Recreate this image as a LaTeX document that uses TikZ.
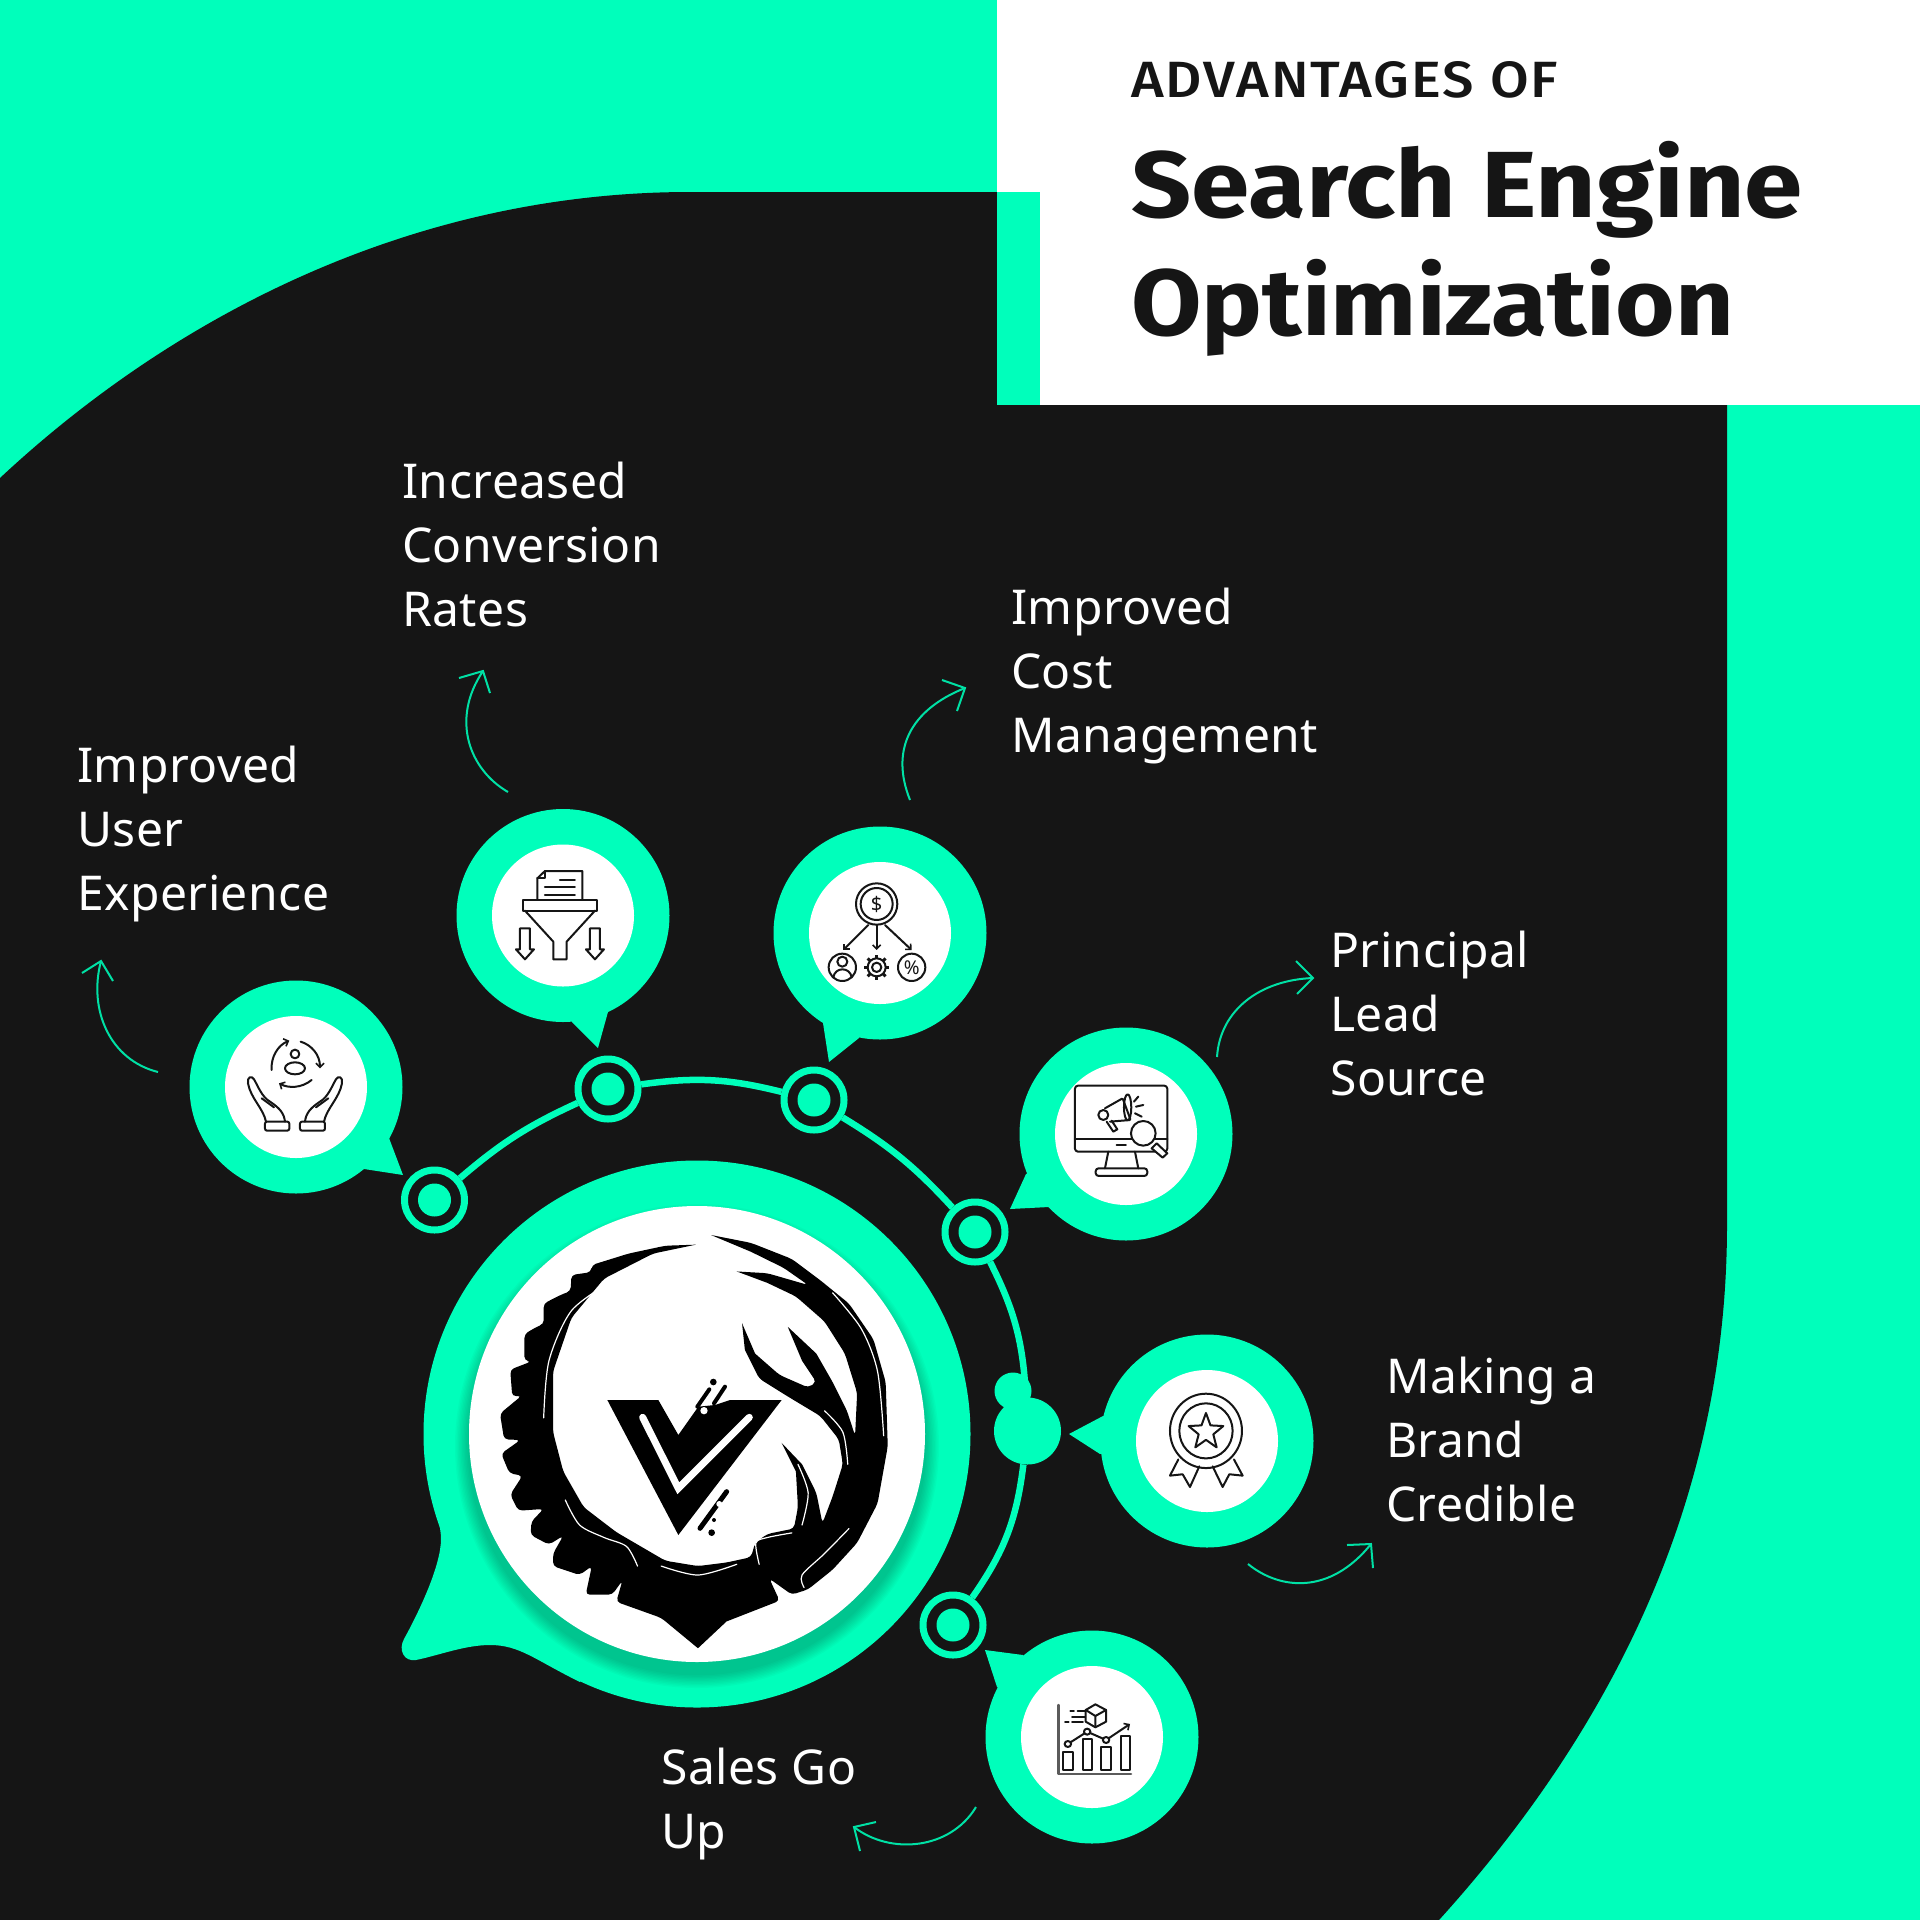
\documentclass[tikz,border=0pt]{standalone}
\usepackage{graphicx}
\usepackage{fontspec}
\setmainfont{Noto Sans}[LetterSpace=1]
\newfontfamily\ttl{Fira Sans}
\newfontfamily\ttlm{Fira Sans Medium}[LetterSpace=3.5]
\usetikzlibrary{arrows.meta}
\definecolor{mint}{RGB}{0,255,187}
\definecolor{ink}{RGB}{21,21,21}
\definecolor{thin}{RGB}{0,225,165}
\tikzset{
 bubble/.style={circle,fill=mint,minimum size=213pt,inner sep=0pt},
 hole/.style={circle,fill=white,minimum size=142pt,inner sep=0pt},
 ring/.style={circle,draw=mint,fill=ink,line width=7pt,minimum size=60pt,inner sep=0pt},
 dot/.style={circle,fill=mint,minimum size=33pt,inner sep=0pt},
 arcline/.style={draw=mint,line width=6.5pt},
 label/.style={text=white,anchor=base west,inner sep=0pt,align=left,font=\fontsize{48}{64}\selectfont},
 flow/.style={draw=thin,line width=2pt},
 barb/.style={draw=thin,line width=2pt,line join=miter},
 icon/.style={draw=ink,line width=2pt,line cap=round,line join=round},
 iconarrow/.style={icon,-{Straight Barb[length=4pt,width=8pt,line width=1.6pt]}},
 wisp/.style={draw=white,line width=1.2pt,line cap=round},
}
\begin{document}
\begin{tikzpicture}[x=1pt,y=-1pt]
\useasboundingbox (0,0) rectangle (1920,1920);
\fill[mint] (0,0) rectangle (1920,1920);
\fill[white] (997,0) rectangle (1920,405);
\fill[ink] (0,478) .. controls (180,310) and (420,192) .. (690,192) -- (997,192) -- (997,405) -- (1727,405) -- (1727,1225) .. controls (1727,1490) and (1620,1720) .. (1439,1920) -- (0,1920) -- cycle;
\fill[mint] (997,192) rectangle (1040,405);
% title
\node[anchor=base west,inner sep=0pt,text=ink] (t1) at (1131,97) {\scalebox{1.1}[1]{\ttlm\fontsize{51}{51}\selectfont ADVANTAGES OF}};
\node[anchor=base west,inner sep=0pt,text=ink] (t2) at (1131,217) {\scalebox{1.12}[1]{\ttl\bfseries\fontsize{94}{94}\selectfont Search Engine}};
\node[anchor=base west,inner sep=0pt,text=ink] (t3) at (1131,335) {\scalebox{1.086}[1]{\ttl\bfseries\fontsize{94}{94}\selectfont Optimization}};
% labels
\node[label] (l1) at (77,910) {Improved\\User\\Experience};
\node[label] (l2) at (402,626) {Increased\\Conversion\\Rates};
\node[label] (l3) at (1011,752) {Improved\\Cost\\Management};
\node[label] (l4) at (1330,1095) {Principal\\Lead\\Source};
\node[label] (l5) at (1386,1521) {Making a\\Brand\\Credible};
\node[label] (l6) at (661,1848) {Sales Go\\Up};
% main bubble
\fill[mint] (697,1434) -- (431,1489) .. controls (438,1515) and (441,1530) .. (441,1539) .. controls (441,1565) and (420,1610) .. (404,1639) .. controls (398,1650) and (404,1662) .. (416,1660) .. controls (440,1655) and (465,1645) .. (490,1645) .. controls (520,1645) and (535,1660) .. (580,1682) -- cycle;
\node[circle,fill=mint,minimum size=547pt,inner sep=0pt] (m) at (697,1434) {};
\foreach \i in {1,...,10}
  \fill[black,opacity=.025] (697,1446) circle ({228+1.4*\i});
\node[circle,fill=white,minimum size=456pt,inner sep=0pt] (mw) at (697,1434) {};
% logo wreath
\begin{scope}[shift={(400,1150)},xscale=0.40816,yscale=0.35714]
\fill[black] [sharp corners] (725,265) [rounded corners=4pt] -- (650,268) -- (560,290) -- (470,322) -- (468,342) -- (420,350) -- (418,395) -- (395,405) -- (352,430) -- (352,488) -- (340,492) -- (305,515) -- (305,590) -- (322,592) -- (270,615) -- (275,690) -- (298,688) -- (245,738) -- (255,810) -- (295,812) -- (248,850) -- (268,905) -- (300,912) -- (270,965) -- (290,1010) -- (352,1005) -- (322,1040) -- (320,1078) -- (365,1105) -- (400,1080) -- (375,1130) -- (375,1165) -- (440,1190) -- (470,1165) -- (455,1245) -- (520,1245) -- (545,1205) -- (530,1265) -- (640,1310) [sharp corners] -- (730,1395) -- (800,1320) [rounded corners=4pt] -- (930,1262) -- (905,1200) -- (960,1245) -- (1000,1230) -- (1060,1175) -- (1120,1100) -- (1170,990) -- (1195,830) -- (1190,650) -- (1160,530) -- (1100,430) -- (1030,365) -- (960,305) -- (860,260) [sharp corners] -- (762,238) -- (860,285) [rounded corners=4pt] -- (940,330) -- (1000,378) -- (900,345) [sharp corners] -- (825,340) -- (900,372) [rounded corners=4pt] -- (970,410) -- (1040,480) -- (1090,570) -- (1120,680) -- (1115,800) -- (1095,730) -- (1060,650) [sharp corners] -- (1020,570) -- (950,495) -- (985,590) [rounded corners=4pt] -- (1020,650) -- (1000,665) -- (930,630) [sharp corners] -- (870,570) -- (838,485) -- (845,560) [rounded corners=4pt] -- (880,640) -- (950,690) -- (1030,745) -- (1075,810) -- (1085,880) -- (1060,970) -- (1035,1045) -- (1020,960) [sharp corners] -- (985,880) -- (935,820) -- (970,900) [rounded corners=4pt] -- (975,1000) -- (965,1060) -- (900,1075) -- (870,1100) -- (860,1140) -- (800,1155) -- (730,1165) -- (650,1150) -- (590,1110) -- (530,1070) -- (450,1000) -- (400,900) -- (375,790) -- (375,620) -- (420,470) -- (500,360) -- (620,290) [sharp corners] -- cycle;
\draw[wisp] plot[smooth] coordinates {(515,370) (420,450) (365,590) (352,750)};
\draw[wisp] plot[smooth] coordinates {(1060,400) (1130,500) (1170,620) (1185,800)};
\draw[wisp] plot[smooth] coordinates {(1040,730) (1085,790) (1097,880)};
\draw[wisp] plot[smooth] coordinates {(405,980) (440,1050) (500,1085) (555,1110) (582,1165)};
\draw[wisp] plot[smooth] coordinates {(640,1165) (730,1190) (825,1160)};
\draw[wisp] plot[smooth] coordinates {(1100,1060) (1040,1130) (985,1190) (990,1225)};
\draw[wisp] plot[smooth] coordinates {(975,880) (1000,960) (985,1050)};
\draw[wisp] plot[smooth] coordinates {(960,1072) (900,1085) (872,1100) (880,1160)};
\end{scope}
% logo V
\begin{scope}[shift={(590,1360)},scale=0.3333]
\fill[black] (52,120) -- (205,120) -- (265,225) -- (325,140) -- (375,135) -- (420,120) -- (575,120) -- (265,525) -- cycle;
\draw[white,line width=7pt,line cap=round,line join=miter] (158,172) -- (265,385) -- (478,172);
\fill[white] (342,152) circle (11);
\draw[black,line width=4pt,line cap=round] (358,88) -- (322,140) (405,80) -- (372,130);
\fill[black] (370,66) circle (10);
\draw[black,line width=5pt,line cap=round] (410,395) -- (330,505);
\fill[white] (388,432) circle (9);
\fill[black] (365,518) circle (10);
\fill[black] (372,480) circle (6);
\end{scope}
% named arc points
\node[ring] (r1) at (434.5,1200) {};
\node[ring] (r2) at (608,1089) {};
\node[ring] (r3) at (814,1100) {};
\node[ring] (r4) at (975,1232) {};
\node[circle,fill=mint,minimum size=67pt,inner sep=0pt] (r5) at (1027.5,1431) {};
\node[circle,fill=mint,minimum size=37pt,inner sep=0pt] (r5b) at (1013,1391) {};
\node[ring] (r6) at (953,1625) {};
\draw[arcline] (r1) to[bend left=8] (r2);
\draw[arcline] (r2) to[bend left=11] (r3);
\draw[arcline] (r3) to[bend left=8] (r4);
\draw[arcline] (r4) to[bend left=12] (r5);
\draw[arcline] (r5) to[bend left=14] (r6);
\foreach \n in {r1,r2,r3,r4,r6} \node[dot] at (\n) {};
% bubbles
\node[bubble] (b1) at (296,1087) {};
\node[bubble] (b2) at (563,915.5) {};
\node[bubble] (b3) at (880,933) {};
\node[bubble] (b4) at (1126,1134) {};
\node[bubble] (b5) at (1207,1441) {};
\node[bubble] (b6) at (1092,1737) {};
\fill[mint] (b1.center) -- (389,1138) -- (403,1175) -- (364,1169) -- cycle;
\fill[mint] (b2.center) -- (608,1012) -- (598,1048) -- (572,1022) -- cycle;
\fill[mint] (b3.center) -- (823,1023) -- (829,1062) -- (859,1038) -- cycle;
\fill[mint] (b4.center) -- (1026,1174) -- (1010,1209) -- (1049,1207) -- cycle;
\fill[mint] (b5.center) -- (1103,1416) -- (1069,1434) -- (1100,1454) -- cycle;
\fill[mint] (b6.center) -- (1023,1655) -- (985,1650) -- (997,1687) -- cycle;
\node[hole] (h1) at (b1) {};
\node[hole] (h2) at (b2) {};
\node[hole] (h3) at (b3) {};
\node[hole] (h4) at (b4) {};
\node[hole] (h5) at (b5) {};
\node[hole] (h6) at (b6) {};
% flow arrows
\coordinate (f1a) at (158,1072); \coordinate (f1b) at (101,961);
\coordinate (f2a) at (508,792); \coordinate (f2b) at (483,671);
\coordinate (f3a) at (910,800); \coordinate (f3b) at (965,688);
\coordinate (f4a) at (1217,1057); \coordinate (f4b) at (1313,978);
\coordinate (f5a) at (1248,1564); \coordinate (f5b) at (1371,1544);
\coordinate (f6a) at (976,1807); \coordinate (f6b) at (854,1827);
\draw[flow] (f1a) .. controls (110,1060) and (88,1010) .. (f1b);
\draw[barb] (82,973) -- (f1b) -- (113,981);
\draw[flow] (f2a) .. controls (470,770) and (450,720) .. (f2b);
\draw[barb] (459,678) -- (f2b) -- (490,693);
\draw[flow] (f3a) .. controls (890,750) and (910,710) .. (f3b);
\draw[barb] (942,680) -- (f3b) -- (957,711);
\draw[flow] (f4a) .. controls (1220,1010) and (1260,980) .. (f4b);
\draw[barb] (1296,961) -- (f4b) -- (1297,994);
\draw[flow] (f5a) .. controls (1280,1590) and (1330,1595) .. (f5b);
\draw[barb] (1347,1545) -- (f5b) -- (1373,1568);
\draw[flow] (f6a) .. controls (950,1850) and (890,1855) .. (f6b);
\draw[barb] (876,1822) -- (f6b) -- (860,1851);
% icon 1 and 2
\begin{scope}[shift={(180,800)},scale=0.3333]
\draw[icon,rounded corners=2pt] (255,965) rectangle (328,992);
\draw[icon,rounded corners=2pt] (360,965) rectangle (435,992);
\draw[icon] (315,965) .. controls (312,940) and (300,925) .. (270,905) .. controls (245,890) and (235,860) .. (222,838) .. controls (215,825) and (200,832) .. (204,850) .. controls (212,895) and (250,925) .. (258,965);
\draw[icon] (375,965) .. controls (378,940) and (390,925) .. (420,905) .. controls (445,890) and (455,860) .. (468,838) .. controls (475,825) and (490,832) .. (486,850) .. controls (478,895) and (440,925) .. (432,965);
\draw[icon] (245,895) -- (282,922) (445,895) -- (408,922);
\draw[icon] (345,762) circle (13);
\draw[icon] (345,805) ellipse (30 and 18);
\draw[iconarrow] (275,810) .. controls (272,770) and (295,735) .. (328,722);
\draw[iconarrow] (362,725) .. controls (395,735) and (420,765) .. (420,805);
\draw[iconarrow] (395,840) .. controls (365,865) and (325,865) .. (297,850);
% funnel
\draw[icon] (1030,300) rectangle (1250,332);
\draw[icon] (1035,332) -- (1120,425) -- (1120,478) -- (1160,478) -- (1160,425) -- (1245,332);
\draw[icon] (1072,298) -- (1072,235) -- (1095,213) -- (1207,213) -- (1207,298);
\draw[icon] (1095,213) -- (1095,235) -- (1072,235);
\draw[icon] (1140,240) -- (1185,240) (1095,262) -- (1185,262) (1095,285) -- (1185,285);
\draw[icon] (1020,385) -- (1050,385) -- (1050,448) -- (1062,448) -- (1035,478) -- (1008,448) -- (1020,448) -- cycle;
\draw[icon] (1230,385) -- (1260,385) -- (1260,448) -- (1272,448) -- (1245,478) -- (1218,448) -- (1230,448) -- cycle;
\end{scope}
% icon 3 and 4
\begin{scope}[shift={(760,820)},scale=0.3333]
\draw[icon] (350,252) circle (62) (350,252) circle (48);
\node[text=ink,inner sep=0pt,font=\fontsize{20}{20}\selectfont] (dollar) at (350,252) {\$};
\draw[iconarrow] (325,315) -- (250,390);
\draw[iconarrow] (350,315) -- (350,390);
\draw[iconarrow] (375,315) -- (455,390);
\draw[icon] (247,442) circle (41) (455,442) circle (41);
\draw[icon] (247,425) circle (15);
\draw[icon] (220,472) .. controls (225,440) and (270,440) .. (275,472);
\node[text=ink,inner sep=0pt,font=\fontsize{19}{19}\selectfont] (pct) at (455,442) {\%};
\begin{scope}[shift={(350,442)}]
\draw[icon] (0,0) circle (27) (0,0) circle (14);
\foreach \a in {0,45,...,315} \draw[icon,line width=3pt,line cap=butt] (\a:27) -- (\a:38);
\end{scope}
% monitor
\draw[icon,rounded corners=3pt] (945,797) rectangle (1222,995);
\draw[icon] (945,957) -- (1222,957) (1070,975) -- (1098,975);
\draw[icon] (1045,995) -- (1035,1045) (1125,995) -- (1135,1045);
\draw[icon,rounded corners=3pt] (1007,1045) rectangle (1162,1068);
\draw[icon,rounded corners=1pt] (1035,865) -- (1088,835) -- (1112,900) -- (1050,905);
\draw[icon] (1030,885) circle (15);
\draw[icon] (1103,862) ellipse (11 and 39);
\draw[icon] (1040,905) -- (1060,935) -- (1072,928) -- (1055,902);
\draw[icon] (1122,845) -- (1135,830) (1128,860) -- (1150,855) (1125,880) -- (1145,890);
\draw[icon,fill=white] (1150,940) circle (37);
\draw[icon,fill=white] (1175,985) -- (1190,970) -- (1222,1000) -- (1208,1013) -- cycle;
\end{scope}
% icon 5
\begin{scope}[shift={(960,1320)},xscale=0.3333,yscale=0.3443]
\draw[icon] (738,322) circle (108) (738,322) circle (80);
\draw[icon] (738,270) -- (751.5,306) -- (790,308) -- (760,332) -- (770,370) -- (738,348) -- (706,370) -- (716,332) -- (686,308) -- (724.5,306) -- cycle;
\draw[icon] (655,405) -- (630,452) -- (668,448) -- (690,485) -- (718,425);
\draw[icon] (822,405) -- (848,452) -- (808,448) -- (788,485) -- (758,425);
\end{scope}
% icon 6
\begin{scope}[shift={(840,1520)},xscale=0.35714,yscale=0.3333]
\draw[icon,line width=2.4pt,draw=ink!70] (612,555) -- (612,762) -- (815,762);
\draw[icon] (625,695) rectangle (653,750) (680,658) rectangle (706,750) (732,680) rectangle (760,750) (786,648) rectangle (812,750);
\draw[iconarrow] (638,672) -- (692,635) -- (745,660) -- (812,612);
\draw[icon,fill=white] (638,672) circle (9) (692,635) circle (9) (745,660) circle (9);
\draw[icon] (715,553) -- (745,570) -- (745,605) -- (715,622) -- (688,605) -- (688,570) -- cycle;
\draw[icon] (688,570) -- (715,588) -- (745,570) (715,588) -- (715,622);
\draw[icon] (645,572) -- (655,572) (665,572) -- (685,572) (650,590) -- (685,590) (630,605) -- (640,605) (650,605) -- (680,605);
\end{scope}
\end{tikzpicture}
\end{document}
